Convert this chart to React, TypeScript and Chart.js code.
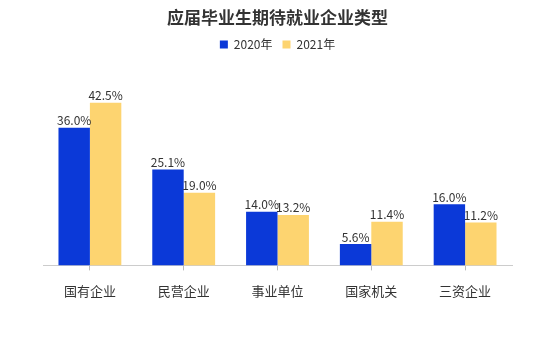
import React, { useEffect, useRef } from "react";
import { Chart, registerables } from "chart.js";

Chart.register(...registerables);

const categories = ["国有企业", "民营企业", "事业单位", "国家机关", "三资企业"];
const series2020 = [36.0, 25.1, 14.0, 5.6, 16.0];
const series2021 = [42.5, 19.0, 13.2, 11.4, 11.2];
const seriesNames = ["2020年", "2021年"];

const FONT = "'Noto Sans CJK SC', 'Noto Sans', sans-serif";

const valueLabels = {
  id: "valueLabels",
  afterDatasetsDraw(chart: any) {
    const ctx = chart.ctx;
    ctx.save();
    ctx.font = `12px ${FONT}`;
    ctx.fillStyle = "#333333";
    ctx.textAlign = "center";
    ctx.textBaseline = "bottom";
    chart.data.datasets.forEach((ds: any, i: number) => {
      const meta = chart.getDatasetMeta(i);
      meta.data.forEach((bar: any, j: number) => {
        ctx.fillText(ds.data[j].toFixed(1) + "%", bar.x, bar.y - 1);
      });
    });
    ctx.restore();
  },
};

export default function App() {
  const ref = useRef<HTMLCanvasElement>(null);
  useEffect(() => {
    document.body.style.margin = "0";
    const chart = new Chart(ref.current!, {
      type: "bar",
      data: {
        labels: categories,
        datasets: [
          { label: seriesNames[0], data: series2020, backgroundColor: "#0b39d8" },
          { label: seriesNames[1], data: series2021, backgroundColor: "#fdd470" },
        ],
      },
      options: {
        animation: false,
        responsive: false,
        maintainAspectRatio: false,
        layout: { padding: { left: 43, right: 28, top: 0, bottom: 41 } },
        datasets: { bar: { barPercentage: 1, categoryPercentage: 0.67 } } as any,
        plugins: {
          title: {
            display: true,
            text: "应届毕业生期待就业企业类型",
            color: "#333333",
            font: { family: FONT, size: 17, weight: "bold" },
            padding: { top: 7, bottom: 1 },
          },
          legend: {
            display: true,
            labels: {
              color: "#333333",
              font: { family: FONT, size: 12 },
              boxWidth: 8,
              boxHeight: 8,
              padding: 10,
            },
          },
          tooltip: { enabled: false },
        },
        scales: {
          x: {
            grid: {
              display: true,
              drawOnChartArea: false,
              drawTicks: true,
              tickLength: 5,
              offset: false,
              color: "#bbbbbb",
            },
            border: { display: true, color: "#cccccc" },
            ticks: {
              color: "#333333",
              font: { family: FONT, size: 13 },
              padding: 13,
            },
          },
          y: {
            display: false,
            min: 0,
            max: 53.6,
          },
        },
      },
      plugins: [valueLabels],
    });
    return () => chart.destroy();
  }, []);
  return (
    <div style={{ width: 540, height: 353, background: "#ffffff" }}>
      <canvas ref={ref} width={540} height={353} />
    </div>
  );
}
